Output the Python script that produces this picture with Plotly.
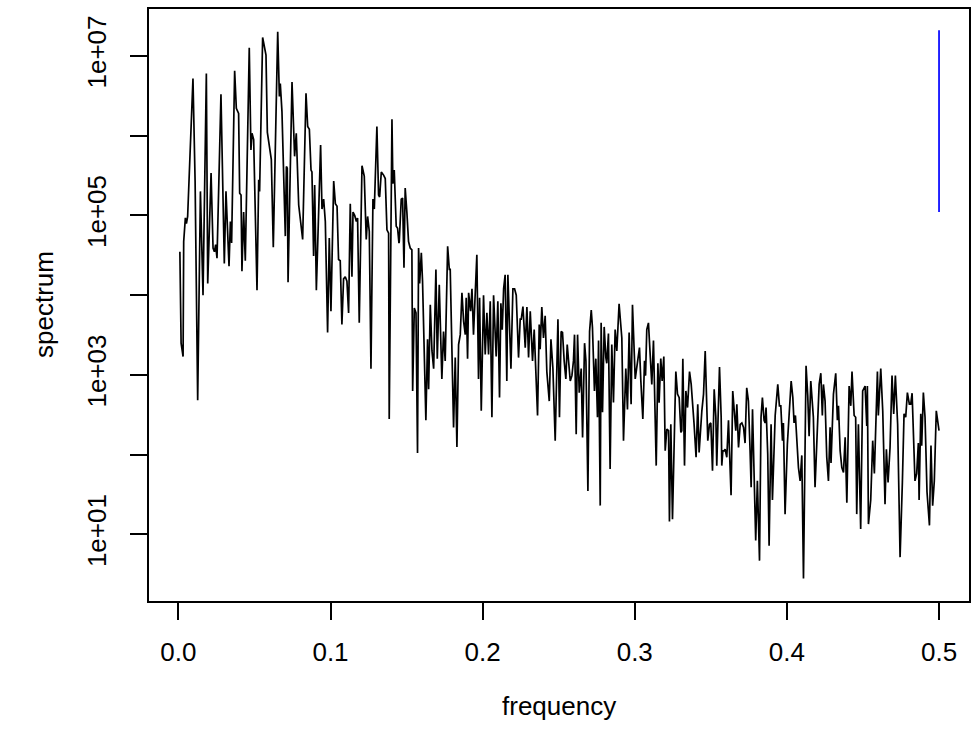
import plotly.graph_objects as go

# Raw periodogram (frequency, spectrum)
freq = [
    0.001, 0.0018, 0.0031, 0.0035, 0.0046, 0.0053, 0.0061, 0.0096, 0.0110, 0.0127,
    0.0145, 0.0162, 0.0184, 0.0193, 0.0215, 0.0228, 0.0237, 0.0245, 0.0254, 0.0280,
    0.0302, 0.0313, 0.0333, 0.0342, 0.0350, 0.0370, 0.0381, 0.0396, 0.0403, 0.0412,
    0.0418, 0.0429, 0.0440, 0.0466,
    0.0477, 0.0484, 0.0495, 0.0517, 0.0528, 0.0534, 0.0554, 0.0576, 0.0585, 0.0611,
    0.0624, 0.0653, 0.0664, 0.0670, 0.0681, 0.0703, 0.0710, 0.0716, 0.0721, 0.0747,
    0.0764, 0.0775, 0.0791, 0.0817, 0.0839, 0.0850, 0.0861, 0.0872, 0.0878, 0.0889,
    0.0896, 0.0907, 0.0935,
    0.0944, 0.0955, 0.0966, 0.0981, 0.0992, 0.1003, 0.1021, 0.1032, 0.1043, 0.1053,
    0.1064, 0.1075, 0.1086, 0.1097, 0.1108, 0.1119, 0.1130, 0.1141, 0.1148, 0.1159,
    0.1170, 0.1178, 0.1189, 0.1207, 0.1222, 0.1235, 0.1244, 0.1255, 0.1266, 0.1279,
    0.1288, 0.1305, 0.1316, 0.1323, 0.1334, 0.1349, 0.1360, 0.1371, 0.1382, 0.1386,
    0.1404, 0.1410, 0.1419, 0.1432, 0.1441, 0.1450,
    0.1452, 0.1465, 0.1474, 0.1483, 0.1491, 0.1502, 0.1513, 0.1524, 0.1535, 0.1540,
    0.1551, 0.1562, 0.1572, 0.1579, 0.1586, 0.1597, 0.1605, 0.1627, 0.1638, 0.1645,
    0.1656, 0.1667, 0.1678, 0.1693, 0.1702, 0.1715, 0.1732, 0.1743, 0.1754, 0.1770,
    0.1781, 0.1787, 0.1809, 0.1820, 0.1831, 0.1842, 0.1853, 0.1864, 0.1875, 0.1886,
    0.1892, 0.1901, 0.1908, 0.1921, 0.1930, 0.1940,
    0.1962, 0.1973, 0.1980, 0.1991, 0.2006, 0.2017, 0.2028, 0.2039, 0.2050, 0.2061,
    0.2072, 0.2089, 0.2100, 0.2111, 0.2120, 0.2129, 0.2138, 0.2148, 0.2159, 0.2166,
    0.2186, 0.2199, 0.2210, 0.2221, 0.2236, 0.2247, 0.2254, 0.2265, 0.2280, 0.2291,
    0.2302, 0.2313, 0.2328, 0.2339, 0.2361, 0.2372, 0.2378, 0.2389, 0.2400, 0.2411,
    0.2422, 0.2438, 0.2449, 0.2462, 0.2477, 0.2495, 0.2505, 0.2516, 0.2525, 0.2536,
    0.2547, 0.2556, 0.2565, 0.2576, 0.2587, 0.2597, 0.2604, 0.2615, 0.2624, 0.2635,
    0.2648, 0.2657, 0.2670, 0.2679, 0.2692, 0.2703, 0.2714, 0.2722, 0.2735, 0.2744,
    0.2755, 0.2762, 0.2773, 0.2779, 0.2788, 0.2799, 0.2810, 0.2816, 0.2827, 0.2838,
    0.2849, 0.2860, 0.2871, 0.2882, 0.2897,
    0.2915, 0.2926, 0.2941, 0.2952, 0.2963, 0.2976, 0.2985, 0.3003, 0.3018, 0.3031,
    0.3040, 0.3053, 0.3064, 0.3071, 0.3079, 0.3090, 0.3112, 0.3123, 0.3141, 0.3152,
    0.3160, 0.3171, 0.3180, 0.3191, 0.3200, 0.3211, 0.3222, 0.3228, 0.3237, 0.3248,
    0.3264, 0.3270, 0.3281, 0.3292, 0.3303, 0.3309, 0.3316, 0.3327, 0.3336, 0.3347,
    0.3360, 0.3371, 0.3390, 0.3403, 0.3414, 0.3423,
    0.3441, 0.3452, 0.3463, 0.3474, 0.3480, 0.3491, 0.3500, 0.3511, 0.3522, 0.3533,
    0.3539, 0.3557, 0.3568, 0.3572, 0.3579, 0.3587, 0.3594, 0.3605, 0.3616, 0.3623,
    0.3633, 0.3644, 0.3655, 0.3664, 0.3671, 0.3682, 0.3693, 0.3704, 0.3715, 0.3725,
    0.3736, 0.3747, 0.3758, 0.3765, 0.3774, 0.3784, 0.3795, 0.3806, 0.3820, 0.3830,
    0.3839, 0.3850, 0.3857, 0.3863, 0.3874, 0.3883, 0.3896, 0.3905,
    0.3923, 0.3940, 0.3951, 0.3960, 0.3971, 0.3977, 0.3988, 0.4003, 0.4017, 0.4028,
    0.4039, 0.4047, 0.4056, 0.4065, 0.4076, 0.4087, 0.4098, 0.4109, 0.4126, 0.4137,
    0.4146, 0.4157, 0.4168, 0.4174, 0.4185, 0.4196, 0.4212, 0.4223, 0.4233, 0.4240,
    0.4251, 0.4262, 0.4273, 0.4284, 0.4290, 0.4306, 0.4321, 0.4332, 0.4339, 0.4350,
    0.4361, 0.4372, 0.4383, 0.4394,
    0.4409, 0.4420, 0.4428, 0.4442, 0.4452, 0.4459, 0.4470, 0.4485, 0.4498, 0.4514,
    0.4525, 0.4529, 0.4536, 0.4551, 0.4564, 0.4575, 0.4595, 0.4601, 0.4617, 0.4630,
    0.4645, 0.4654, 0.4665, 0.4678, 0.4691, 0.4702, 0.4713, 0.4728, 0.4744, 0.4759,
    0.4770, 0.4781, 0.4792, 0.4805, 0.4814, 0.4823, 0.4831, 0.4842, 0.4853, 0.4864,
    0.4869, 0.4880, 0.4886, 0.4897, 0.4908, 0.4921, 0.4937, 0.4947, 0.4958, 0.4969,
    0.4982, 0.5000,
]

spectrum = [
    3.5e4, 2.5e3, 1.7e3, 4.7e4, 9.3e4, 7.9e4, 9.7e4, 5.2e6, 2.7e5, 480,
    2.0e5, 1.0e4, 6.0e6, 1.4e4, 3.4e5, 3.9e4, 3.5e4, 4.3e4, 2.9e4, 3.3e6,
    2.5e4, 2.0e5, 2.3e4, 8.4e4, 4.5e4, 6.5e6, 2.2e6, 1.9e6, 1.9e5, 1.8e5,
    2.0e4, 1.1e5, 2.7e4, 1.26e7,
    6.6e5, 1.07e6, 8.9e5, 1.15e4, 2.8e5, 2.0e5, 1.7e7, 1.02e7, 1.1e6, 5.0e5,
    4.0e4, 2.0e7, 3.1e6, 4.5e6, 2.0e6, 5.5e4, 4.1e5, 3.9e5, 1.45e4, 4.7e6,
    5.5e5, 1.07e6, 1.35e5, 5.0e4, 3.4e6, 1.3e6, 1.2e6, 3.7e5, 3.5e5, 3.1e4,
    2.4e5, 1.15e4, 7.6e5,
    1.2e5, 1.6e5, 8.4e4, 3.4e3, 5.2e4, 6.3e3, 2.7e5, 1.4e5, 1.3e5, 2.8e4,
    2.7e4, 4.3e3, 1.6e4, 1.7e4, 1.5e4, 6.0e3, 1.4e5, 1.7e4, 1.1e5, 1.0e5,
    8.4e4, 9.3e4, 4.5e3, 4.2e5, 3.1e5, 5.0e4, 9.7e4, 6.3e4, 1.2e3, 1.6e5,
    1.2e5, 1.3e6, 1.8e5, 1.7e5, 3.5e5, 3.2e5, 2.9e5, 6.6e4, 6.0e4, 280,
    1.6e6, 2.5e5, 3.7e5, 7.3e4, 6.9e4, 4.5e4,
    4.7e4, 1.6e5, 1.65e5, 2.2e4, 2.2e5, 1.1e5, 4.7e4, 3.9e4, 3.7e4, 630,
    6.9e3, 6.0e3, 105, 3.9e4, 1.4e4, 3.4e4, 1.5e4, 270, 2.8e3, 660,
    7.6e3, 2.0e3, 1.2e3, 2.1e4, 1.6e3, 1.35e4, 890, 3.5e3, 1.5e3, 4.1e4,
    2.1e4, 2.1e4, 220, 1.65e3, 125, 2.4e3, 3.2e3, 1.07e4, 4.7e3, 3.2e3,
    9.3e3, 1.6e3, 1.07e4, 6.3e3, 1.2e4, 3.2e3,
    3.2e4, 890, 9.3e3, 355, 1.0e4, 1.8e3, 6.0e3, 1.8e3, 8.4e3, 295,
    1.0e4, 1.7e3, 8.4e3, 520, 7.9e3, 3.7e3, 1.2e4, 1.8e4, 840, 1.8e4,
    1.2e3, 1.2e4, 1.2e4, 1.0e4, 1.65e3, 5.0e3, 5.0e3, 7.2e3, 2.2e3, 7.1e3,
    1.65e3, 6.3e3, 1.5e3, 3.7e3, 310, 4.3e3, 2.1e3, 7.1e3, 2.9e3, 5.5e3,
    1.1e3, 470, 2.8e3, 1.2e3, 150, 5.0e3, 295, 3.5e3, 3.4e3, 1.5e3,
    890, 2.4e3, 1.5e3, 840, 980, 1.5e3, 3.2e3, 180, 3.2e3, 600,
    1.2e3, 165, 2.5e3, 1.5e3, 35, 3.5e3, 6.5e3, 3.9e3, 630, 1.6e3,
    295, 2.7e3, 23, 4.5e3, 340, 4.0e3, 1.65e3, 1.4e3, 3.3e3, 66,
    2.4e3, 450, 3.7e3, 2.0e3, 7.8e3,
    2.9e3, 150, 1.2e3, 370, 3.4e3, 430, 7.6e3, 890, 1.5e3, 2.2e3,
    840, 280, 1.5e3, 980, 3.7e3, 4.5e3, 760, 2.7e3, 73, 1.4e3,
    450, 1.6e3, 840, 1.7e3, 112, 210, 200, 14.5, 240, 15.5,
    370, 1.1e3, 575, 520, 190, 200, 1.6e3, 73, 630, 390,
    1.1e3, 760, 240, 93, 430, 107,
    355, 575, 2.0e3, 325, 150, 240, 250, 63, 660, 295,
    73, 1.26e3, 295, 73, 112, 112, 117, 93, 270, 107,
    31, 630, 295, 200, 430, 123, 240, 250, 220, 140,
    690, 470, 112, 39, 370, 69, 8.4, 47, 4.7, 295,
    520, 270, 250, 390, 102, 7.2, 240, 27,
    310, 760, 410, 410, 150, 250, 18, 135, 355, 840,
    520, 250, 310, 150, 69, 47, 98, 2.8, 1.3e3, 550,
    170, 840, 325, 295, 39, 135, 760, 1.05e3, 310, 760,
    470, 93, 47, 220, 79, 575, 1.05e3, 270, 410, 112,
    69, 60, 165, 25,
    725, 410, 1.1e3, 310, 295, 18, 240, 11.7, 630, 725,
    230, 725, 13.5, 27, 150, 58, 1.1e3, 310, 1.2e3, 355,
    24, 117, 45, 123, 980, 325, 980, 240, 5.2, 45,
    325, 295, 600, 430, 430, 590, 150, 47, 58, 140,
    27, 325, 130, 600, 295, 34, 13, 130, 23, 47,
    355, 200,
]

assert len(freq) == len(spectrum), (len(freq), len(spectrum))

# Confidence-interval bar drawn at the right edge
ci_freq = [0.5, 0.5]
ci_spectrum = [2.1e7, 1.1e5]

x_tick_vals = [0.0, 0.1, 0.2, 0.3, 0.4, 0.5]
x_tick_text = ["0.0", "0.1", "0.2", "0.3", "0.4", "0.5"]
y_tick_vals = [1e1, 1e2, 1e3, 1e4, 1e5, 1e6, 1e7]
y_tick_text = ["1e+01", "", "1e+03", "", "1e+05", "", "1e+07"]

FONT = "Liberation Sans, Arial, Helvetica, sans-serif"

fig = go.Figure()
fig.add_trace(go.Scatter(
    x=freq, y=spectrum, mode="lines",
    line=dict(color="black", width=1.7),
    hoverinfo="skip", showlegend=False,
))
fig.add_trace(go.Scatter(
    x=ci_freq, y=ci_spectrum, mode="lines",
    line=dict(color="blue", width=1.7),
    hoverinfo="skip", showlegend=False,
))

fig.update_layout(
    width=978, height=740,
    margin=dict(l=149, r=9, t=7, b=139, pad=0),
    plot_bgcolor="white", paper_bgcolor="white",
    font=dict(family=FONT, size=26, color="black"),
    showlegend=False,
    annotations=[
        dict(text="frequency", xref="paper", yref="paper", x=0.5, y=0,
             xanchor="center", yanchor="middle", yshift=-105, showarrow=False,
             font=dict(family=FONT, size=26, color="black")),
        dict(text="spectrum", xref="paper", yref="paper", x=0, y=0.5,
             xanchor="center", yanchor="middle", xshift=-105, textangle=-90,
             showarrow=False, font=dict(family=FONT, size=26, color="black")),
    ],
)

fig.update_xaxes(
    range=[-0.0193, 0.5197],
    tickvals=x_tick_vals, ticktext=x_tick_text,
    ticks="outside", ticklen=17, tickwidth=1.5, tickcolor="black",
    showline=True, mirror=True, linecolor="black", linewidth=1.5,
    showgrid=False, zeroline=False,
    ticklabelstandoff=10,
    tickfont=dict(family=FONT, size=26, color="black"),
)
fig.update_yaxes(
    type="log", range=[0.166, 7.5875],
    tickvals=y_tick_vals, ticktext=y_tick_text, tickangle=-90,
    ticks="outside", ticklen=17, tickwidth=1.5, tickcolor="black",
    showline=True, mirror=True, linecolor="black", linewidth=1.5,
    showgrid=False, zeroline=False,
    ticklabelstandoff=14,
    tickfont=dict(family=FONT, size=26, color="black"),
)

fig.write_html("out.html", config={"displayModeBar": False},
               post_script="document.body.style.margin='0';")
